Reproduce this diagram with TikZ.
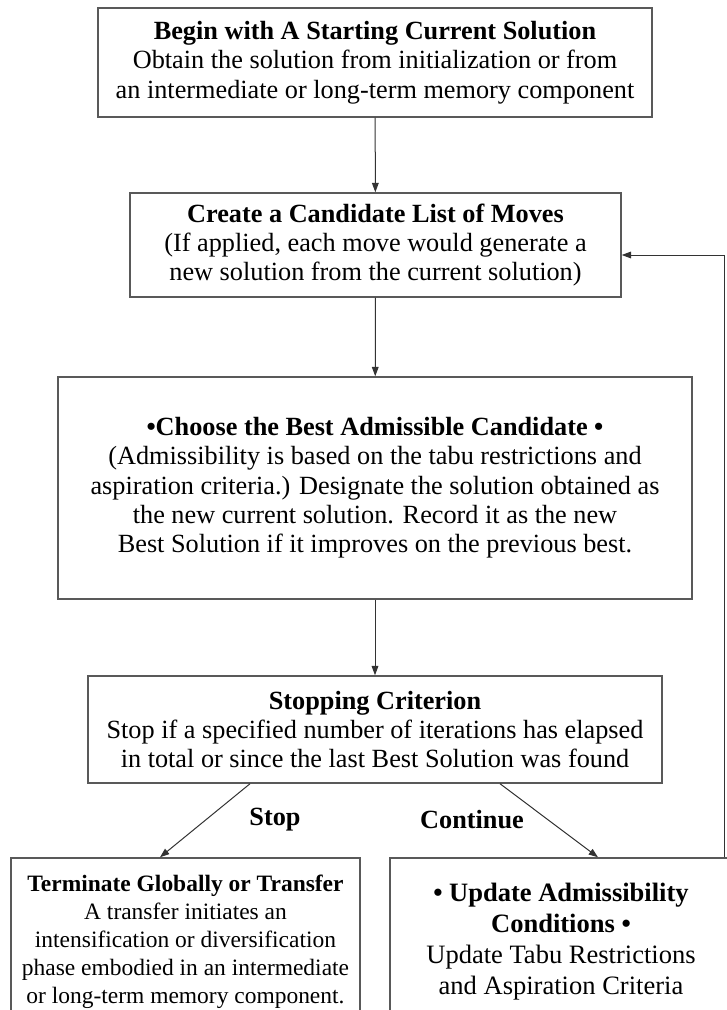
\documentclass[tikz,border=0pt]{standalone}
\usepackage{fontspec}
\setmainfont{Liberation Serif}
\usetikzlibrary{arrows.meta}
\begin{document}
\begin{tikzpicture}[x=0.75pt,y=-0.75pt,
 box/.style={draw=black!65,line width=1.1pt,inner sep=0pt,align=center,font=\fontsize{19.7}{22}\selectfont},
 conn/.style={draw=black!80,line width=0.75pt,-{Triangle[length=7pt,width=5pt]}},
 lbl/.style={font=\fontsize{19.7}{22}\selectfont\bfseries}]
\clip (0,0) rectangle (727,1010);
\useasboundingbox (0,0) rectangle (727,1010);
\node[box,minimum width=415.5pt,minimum height=81.75pt] (b1) at (375,62.5)
 {\textbf{Begin with A Starting Current Solution}\\Obtain the solution from initialization or from\\an intermediate or long-term memory component};
\node[box,minimum width=368.25pt,minimum height=78pt] (b2) at (375.5,245)
 {\textbf{Create a Candidate List of Moves}\\(If applied, each move would generate a\\new solution from the current solution)};
\node[box,minimum width=475.5pt,minimum height=166.5pt] (b3) at (375,488)
 {\textbf{•Choose the Best Admissible Candidate •}\\(Admissibility is based on the tabu restrictions and\\aspiration criteria.) Designate the solution obtained as\\the new current solution. Record it as the new\\Best Solution if it improves on the previous best.};
\node[box,minimum width=430.5pt,minimum height=80.25pt] (b4) at (375,729.5)
 {\textbf{Stopping Criterion}\\Stop if a specified number of iterations has elapsed\\in total or since the last Best Solution was found};
\node[box,font=\fontsize{17.6}{21}\selectfont,minimum width=261.75pt,minimum height=125.25pt] (b5) at (185.5,941.5)
 {\textbf{Terminate Globally or Transfer}\\A transfer initiates an\\intensification or diversification\\phase embodied in an intermediate\\or long-term memory component.};
\node[box,font=\fontsize{19.9}{23.25}\selectfont,minimum width=256.5pt,minimum height=125.25pt] (b6) at (561,941.5)
 {\textbf{• Update Admissibility}\\\textbf{Conditions •}\\Update Tabu Restrictions\\and Aspiration Criteria};
\draw[conn] (b1) -- (b2);
\draw[conn] (b2) -- (b3);
\draw[conn] (b3) -- (b4);
\draw[conn] ([xshift=-93.75pt]b4.south) -- ([xshift=-19.125pt]b5.north);
\draw[conn] ([xshift=93.75pt]b4.south) -- ([xshift=27.75pt]b6.north);
\draw[conn] ([xshift=122.25pt]b6.north) |- ([yshift=-7.5pt]b2.east);
\node[lbl] (stop) at (275,820) {Stop};
\node[lbl] (cont) at (472,820) {Continue};
\end{tikzpicture}
\end{document}
